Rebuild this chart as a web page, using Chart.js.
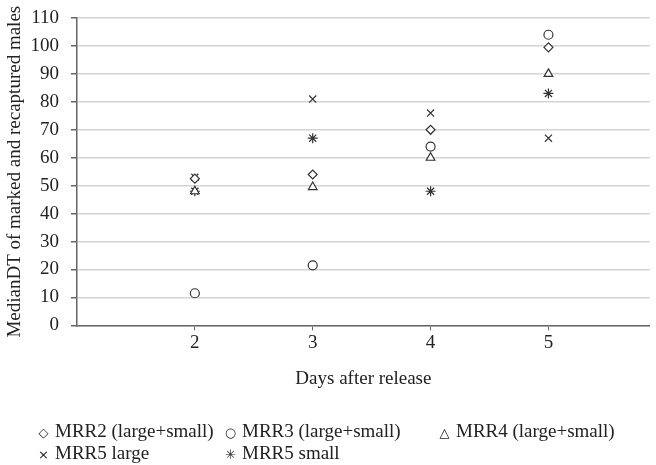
<!DOCTYPE html>
<html>
<head>
<meta charset="utf-8">
<script src="https://cdn.jsdelivr.net/npm/chart.js@4/dist/chart.umd.min.js"></script>
<style>
  html, body { margin: 0; padding: 0; background: #fff; }
  #wrap { position: relative; width: 656px; height: 465px; }
  #legend {
    position: absolute; left: 36px; top: 420px; width: 620px;
    font-family: "Liberation Serif", "Times New Roman", serif; font-size: 19px; color: #222;
  }
  #legend .item { position: absolute; white-space: nowrap; }
  #legend .sym { display: inline-block; width: 15px; text-align: center; margin-right: 4px; font-family: "DejaVu Sans", sans-serif; font-size: 13px; }
</style>
</head>
<body>
<div id="wrap">
  <canvas id="chart" width="656" height="465"></canvas>
  <div id="legend"></div>
</div>
<script>
// Data
const days = [2, 3, 4, 5];
const mrr2 = [52.5, 54, 70, 99.5];
const mrr3 = [11.5, 21.5, 64, 104];
const mrr4 = [48, 49.5, 60, 90];
const mrr5Large = [53, 81, 76, 67];
const mrr5Small = [48, 67, 48, 83];
const yTicks = [0, 10, 20, 30, 40, 50, 60, 70, 80, 90, 100, 110];

const INK = "#333";

function pts(values) {
  return days.map((d, i) => ({ x: d, y: values[i] }));
}

function series(label, values, style, radius) {
  return {
    label,
    data: pts(values),
    pointStyle: style,
    pointRadius: radius,
    pointHoverRadius: radius,
    pointBorderColor: INK,
    pointBackgroundColor: "#fff",
    pointBorderWidth: 1.2,
    showLine: false
  };
}

const legendItems = [
  { sym: "\u25C7", text: "MRR2 (large+small)", left: 0, top: 0 },
  { sym: "\u25CB", text: "MRR3 (large+small)", left: 187, top: 0 },
  { sym: "\u25B3", text: "MRR4 (large+small)", left: 401, top: 0 },
  { sym: "\u00D7", text: "MRR5 large", left: 0, top: 22 },
  { sym: "\u2733", text: "MRR5 small", left: 187, top: 22 }
];

const legendEl = document.getElementById("legend");
legendEl.innerHTML = legendItems.map(it =>
  `<span class="item" style="left:${it.left}px;top:${it.top}px"><span class="sym">${it.sym}</span>${it.text}</span>`
).join("");

const serif = "'Liberation Serif', 'Times New Roman', serif";

new Chart(document.getElementById("chart"), {
  type: "scatter",
  data: {
    datasets: [
      series("MRR2 (large+small)", mrr2, "rectRot", 4.5),
      series("MRR3 (large+small)", mrr3, "circle", 4.5),
      series("MRR4 (large+small)", mrr4, "triangle", 5),
      series("MRR5 large", mrr5Large, "crossRot", 5),
      series("MRR5 small", mrr5Small, "star", 5)
    ]
  },
  options: {
    responsive: false,
    animation: false,
    layout: { padding: { top: 18, right: 0, bottom: 71, left: 4 } },
    plugins: { legend: { display: false }, tooltip: { enabled: false } },
    scales: {
      x: {
        type: "linear",
        min: 1,
        max: 5.86,
        afterBuildTicks: s => { s.ticks = days.map(v => ({ value: v })); },
        afterFit: s => { s.paddingLeft = 0; s.paddingRight = 0; },
        grid: { drawOnChartArea: false, tickColor: "#666", tickLength: 5 },
        border: { color: "#666", width: 1.5 },
        ticks: { color: "#222", font: { family: serif, size: 19 }, padding: 1 },
        title: { display: true, text: "Days after release", color: "#222", font: { family: serif, size: 19 }, padding: { top: 12 } }
      },
      y: {
        min: 0,
        max: 110,
        afterBuildTicks: s => { s.ticks = yTicks.map(v => ({ value: v })); },
        afterFit: s => { s.width = 73; s.paddingTop = 0; s.paddingBottom = 0; },
        grid: { color: "#d4d4d4", lineWidth: 1.5, tickColor: "#666", tickLength: 6 },
        border: { color: "#666", width: 1.5 },
        ticks: { color: "#222", font: { family: serif, size: 19 }, padding: 12 },
        title: { display: true, text: "MedianDT of marked and recaptured males", color: "#222", font: { family: serif, size: 19 }, padding: { top: 0, bottom: 2 } }
      }
    }
  }
});
</script>
</body>
</html>
